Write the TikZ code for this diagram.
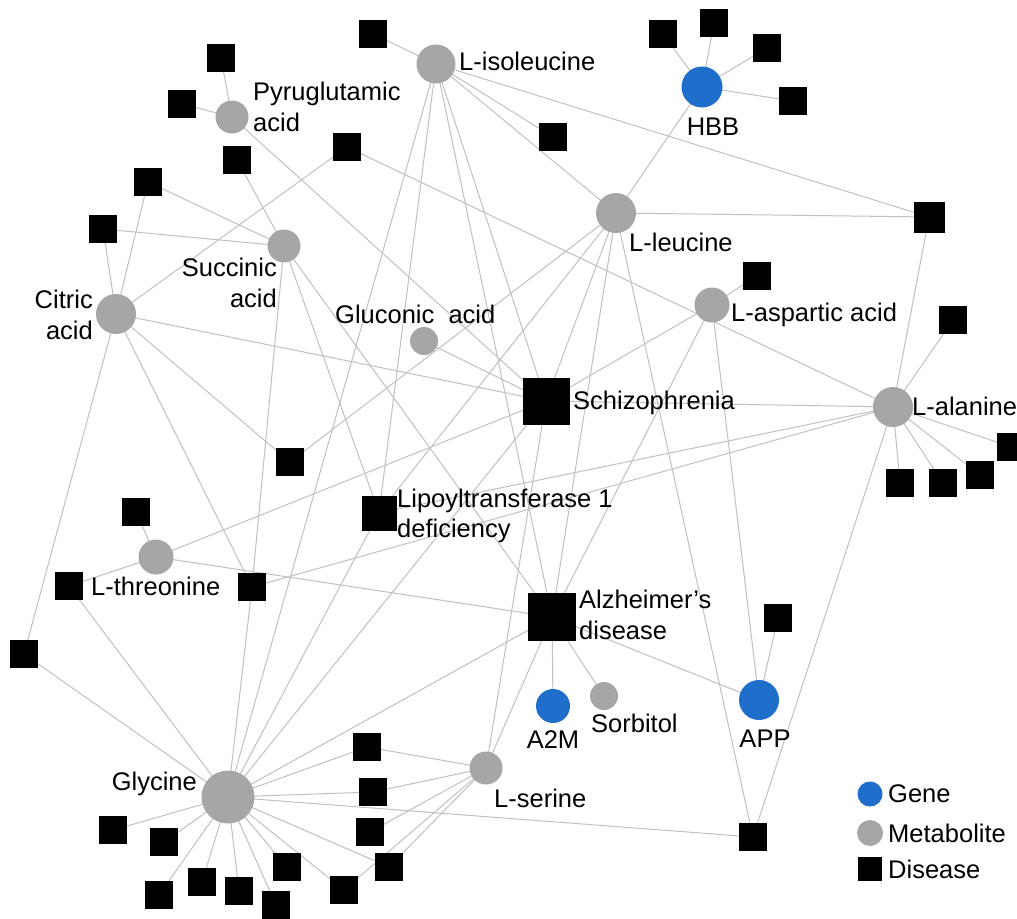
\documentclass[tikz,border=0pt]{standalone}
\usepackage{fontspec}
\setmainfont{Liberation Sans}
\usetikzlibrary{backgrounds}
\definecolor{metgray}{RGB}{166,166,166}
\definecolor{genebl}{RGB}{31,110,204}
\definecolor{edgegray}{RGB}{192,192,192}
\tikzset{
  met/.style={circle, fill=metgray, draw=none, minimum size=#1, inner sep=0pt},
  gene/.style={circle, fill=genebl, draw=none, minimum size=#1, inner sep=0pt},
  dis/.style={rectangle, fill=black, draw=none, minimum size=#1, inner sep=0pt},
  sdis/.style={dis=28},
  lbl/.style={inner sep=0pt, font=\fontsize{25.5}{30.6}\selectfont, text=black},
  edge/.style={draw=edgegray, line width=1pt}
}
\begin{document}
\begin{tikzpicture}[x=1pt, y=-1pt]
\useasboundingbox (0,0) rectangle (1017,918);
% metabolites
\node[met=39] (ile) at (436,64) {};
\node[met=33] (pyr) at (232,117) {};
\node[met=33] (suc) at (284,246) {};
\node[met=40] (cit) at (116,314) {};
\node[met=28] (glu) at (424,341) {};
\node[met=40] (leu) at (616,213) {};
\node[met=35] (asp) at (712,305) {};
\node[met=40] (ala) at (893,407) {};
\node[met=35] (thr) at (156,557) {};
\node[met=53] (gly) at (228,797) {};
\node[met=33] (ser) at (486,768) {};
\node[met=28] (sor) at (604,696) {};
% genes
\node[gene=41] (hbb) at (702,87) {};
\node[gene=34] (a2m) at (553,706) {};
\node[gene=40] (app) at (759,700) {};
% big diseases
\node[dis=47] (sch) at (546,401) {};
\node[dis=35] (lip) at (379,513) {};
\node[dis=48] (alz) at (552,617) {};
% small diseases
\node[sdis] (d1) at (373,34) {};
\node[sdis] (d2) at (221,58) {};
\node[sdis] (d3) at (182,104) {};
\node[sdis] (d4) at (237,160) {};
\node[sdis] (d5) at (347,147) {};
\node[sdis] (d6) at (148,182) {};
\node[sdis] (d7) at (103,229) {};
\node[sdis] (d8) at (553,137) {};
\node[sdis] (h1) at (663,34) {};
\node[sdis] (h2) at (714,23) {};
\node[sdis] (h3) at (767,48) {};
\node[sdis] (h4) at (793,101) {};
\node[dis=31] (d9) at (929,217) {};
\node[sdis] (d10) at (757,276) {};
\node[sdis] (d11) at (953,320) {};
\node[sdis] (d12) at (290,462) {};
\node[sdis] (d13) at (1011,447) {};
\node[sdis] (d14) at (900,483) {};
\node[sdis] (d15) at (943,483) {};
\node[sdis] (d16) at (980,475) {};
\node[sdis] (d17) at (136,512) {};
\node[sdis] (d18) at (69,586) {};
\node[sdis] (d19) at (252,587) {};
\node[sdis] (d20) at (24,654) {};
\node[sdis] (d21) at (113,830) {};
\node[sdis] (d22) at (164,842) {};
\node[sdis] (d23) at (159,895) {};
\node[sdis] (d24) at (202,882) {};
\node[sdis] (d25) at (239,891) {};
\node[sdis] (d26) at (276,905) {};
\node[sdis] (d27) at (287,867) {};
\node[sdis] (d28) at (344,890) {};
\node[sdis] (d29) at (367,747) {};
\node[sdis] (d30) at (373,792) {};
\node[sdis] (d31) at (370,832) {};
\node[sdis] (d32) at (389,867) {};
\node[sdis] (d33) at (778,618) {};
\node[sdis] (d34) at (753,837) {};
% labels
\node[lbl, anchor=west] (tile) at (459,61) {L-isoleucine};
\node[lbl, anchor=west, align=left] (tpyr) at (253,107) {Pyruglutamic\\acid};
\node[lbl, anchor=east, align=right] (tsuc) at (277,283) {Succinic\\acid};
\node[lbl, anchor=east, align=right] (tcit) at (93,315) {Citric\\acid};
\node[lbl, anchor=west] (tglu) at (335,314) {Gluconic\ \ acid};
\node[lbl] (thbb) at (713,127) {HBB};
\node[lbl, anchor=west] (tleu) at (629,242) {L-leucine};
\node[lbl, anchor=west] (tasp) at (731,315) {L-aspartic acid};
\node[lbl, anchor=west] (tala) at (912,406) {L-alanine};
\node[lbl, anchor=west] (tsch) at (573,403) {Schizophrenia};
\node[lbl, anchor=west, align=left] (tlip) at (397,516) {Lipoyltransferase 1\\deficiency};
\node[lbl, anchor=west] (tthr) at (91,586) {L-threonine};
\node[lbl, anchor=west, align=left] (talz) at (579,615) {Alzheimer’s\\disease};
\node[lbl] (ta2m) at (553,740) {A2M};
\node[lbl, anchor=west] (tsor) at (591,723) {Sorbitol};
\node[lbl] (tapp) at (765,739) {APP};
\node[lbl, anchor=west] (tser) at (494,798) {L-serine};
\node[lbl, anchor=east] (tgly) at (197,784) {Glycine};
% legend
\node[gene=25] (lg1) at (870,794) {};
\node[met=26] (lg2) at (870,833) {};
\node[dis=24] (lg3) at (870,869) {};
\node[lbl, anchor=west] (tlg1) at (888,794) {Gene};
\node[lbl, anchor=west] (tlg2) at (888,833) {Metabolite};
\node[lbl, anchor=west] (tlg3) at (888,869) {Disease};
% edges
\begin{pgfonlayer}{background}
\foreach \a/\b in {ile/d1, ile/d8, ile/d9, ile/leu, ile/gly, ile/lip, ile/sch, ile/alz,
  pyr/d2, pyr/d3, pyr/sch,
  suc/d4, suc/d6, suc/d7, suc/d19, suc/lip, suc/alz,
  cit/d5, cit/d6, cit/d7, cit/sch, cit/d12, cit/d19, cit/d20,
  glu/sch,
  leu/hbb, leu/d9, leu/d12, leu/lip, leu/sch, leu/alz, leu/d34,
  hbb/h1, hbb/h2, hbb/h3, hbb/h4,
  asp/d10, asp/sch, asp/alz, asp/app,
  ala/d9, ala/d11, ala/d13, ala/d14, ala/d15, ala/d16, ala/d5, ala/sch, ala/lip, ala/d19, ala/d34,
  thr/d17, thr/d18, thr/sch, thr/alz,
  gly/d18, gly/d19, gly/d20, gly/lip, gly/sch, gly/alz,
  gly/d21, gly/d22, gly/d23, gly/d24, gly/d25, gly/d26, gly/d27, gly/d28, gly/d29, gly/d30, gly/d32, gly/d34,
  ser/d28, ser/d29, ser/d30, ser/d31, ser/d32, ser/sch, ser/alz,
  alz/a2m, alz/sor, alz/app, app/d33}
  \draw[edge] (\a.center) -- (\b.center);
\end{pgfonlayer}
\end{tikzpicture}
\end{document}
